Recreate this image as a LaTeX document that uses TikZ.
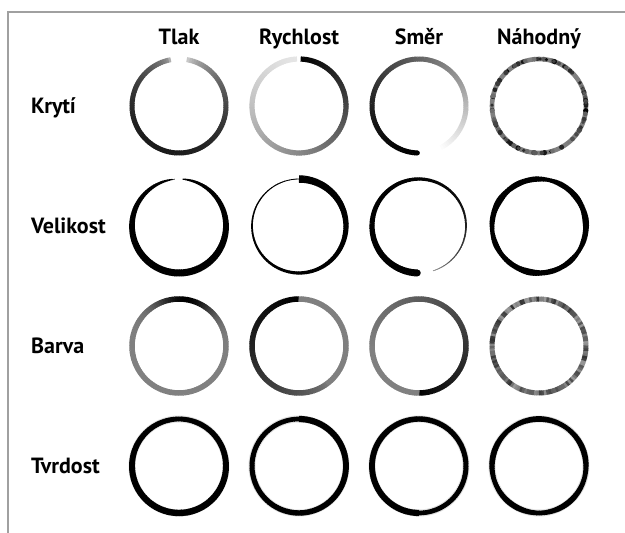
\documentclass[tikz,border=0pt]{standalone}
\usepackage{fontspec}
\setmainfont{PT Sans}
\usepackage{tikz}
\usetikzlibrary{positioning}
\definecolor{framegray}{HTML}{A0A0A0}
\tikzset{
  colhead/.style={font=\bfseries\fontsize{22}{26}\selectfont, inner sep=0pt, anchor=base},
  rowhead/.style={colhead, anchor=base west},
  frameline/.style={draw=framegray, line width=1.2pt},
  halo/.style={draw=black!12, line width=7pt},
}
\def\rr{47}
% one ring as short arcs; #5 sets \g (black %) and \w (width) from \t in [0,1]
\newcommand{\ring}[5]{%
  \foreach \i in {0,...,119}{%
    \pgfmathsetmacro{\t}{\i/120}%
    \pgfmathsetmacro{\aa}{#3+#4*\t}%
    \pgfmathsetmacro{\ab}{#3+#4*(\t+0.01)}%
    #5%
    \draw[line width=\w pt, black!\g] ({#1+\rr*cos(\aa)},{#2+\rr*sin(\aa)})
      arc[start angle=\aa, end angle=\ab, radius=\rr];
  }}
\newcommand{\ringcap}[4]{\fill[black] ({#1+\rr*cos(#3)},{#2+\rr*sin(#3)}) circle[radius=#4];}
% random blots along a ring
\newcommand{\blots}[4]{%
  \foreach \i in {1,...,#3}{%
    \pgfmathsetmacro{\aa}{360*rnd}%
    \pgfmathsetmacro{\g}{#4+(100-#4)*rnd}%
    \pgfmathsetmacro{\s}{1.7+1*rnd}%
    \fill[black!\g] ({#1+\rr*cos(\aa)},{#2+\rr*sin(\aa)}) circle[radius=\s];
  }}

\begin{document}
\begin{tikzpicture}[x=1pt,y=1pt]
  \useasboundingbox (0,0) rectangle (625,533);
  \pgfmathsetseed{11}
  \draw[frameline] (8,0) -- (8,521) -- (625,521);
  % headings
  \foreach \x/\name/\txt in {179/tlak/Tlak, 299/rychlost/Rychlost, 419/smer/Směr, 539/nahodny/Náhodný}
    \node[colhead] (\name) at (\x,488) {\txt};
  \foreach \y/\name/\txt in {419/kryti/Krytí, 299/velikost/Velikost, 179/barva/Barva, 59/tvrdost/Tvrdost}
    \node[rowhead] (\name) at (31,\y) {\txt};
  % Krytí
  \ring{179}{427}{100}{340}{\pgfmathsetmacro{\g}{max(0,min(100,30+70*max(0.0001,sin(180*\t))^0.45-22*\t))}\def\w{5}}
  \ring{299}{427}{88}{-355}{\pgfmathsetmacro{\g}{10+90*(1-\t)^1.3}\def\w{5.2}}
  \ring{419}{427}{268}{-330}{\pgfmathsetmacro{\g}{100*(1-max(0.0001,\t)^1.5)}\def\w{5}}
  \ringcap{419}{427}{268}{2.5}
  \draw[black!50, line width=4.6pt] (539,427) circle[radius=\rr];
  \blots{539}{427}{110}{50}
  % Velikost
  \ring{179}{307}{95}{350}{\def\g{100}\pgfmathsetmacro{\w}{0.5+6.5*max(0.0001,sin(180*\t))^0.6}}
  \ring{299}{307}{90}{-360}{\def\g{100}\pgfmathsetmacro{\w}{0.8+6.7*(1-\t)^1.5}}
  \ring{419}{307}{268}{-340}{\pgfmathsetmacro{\g}{100-55*max(0.0001,\t)^6}\pgfmathsetmacro{\w}{0.7+6.3*(1-\t)^1.2}}
  \ringcap{419}{307}{268}{3.4}
  \ring{539}{307}{0}{360}{\def\g{100}\pgfmathsetmacro{\w}{5.3+0.6*sin(3*\aa+40)+0.4*sin(7*\aa+110)+0.3*sin(13*\aa)}}
  % Barva
  \ring{179}{187}{-100}{360}{\pgfmathsetmacro{\g}{50+50*exp(-((\aa-80)/38)^2)}\def\w{5.5}}
  \ring{299}{187}{90}{360}{\pgfmathsetmacro{\g}{50+50*max(0.0001,1-\t/0.6)^0.6}\def\w{5.5}}
  \ring{419}{187}{270}{360}{\pgfmathsetmacro{\g}{100-50*min(1,\t/0.75+0.0001)^0.8}\def\w{5.5}}
  \ring{539}{187}{0}{360}{\pgfmathsetmacro{\g}{40+40*rnd}\def\w{5}}
  % Tvrdost
  \foreach \x in {179,299,419,539}
    \draw[halo] (\x,67) circle[radius=\rr];
  \ring{179}{67}{90}{360}{\def\g{100}\pgfmathsetmacro{\w}{4.8+1.6*sin(180*\t)}}
  \ring{299}{67}{90}{-360}{\def\g{100}\pgfmathsetmacro{\w}{6.2-1.6*\t}}
  \ring{419}{67}{270}{-360}{\def\g{100}\pgfmathsetmacro{\w}{6.2-1.6*\t}}
  \ring{539}{67}{0}{360}{\def\g{100}\pgfmathsetmacro{\w}{5.2+0.5*sin(5*\aa)}}
\end{tikzpicture}
\end{document}
